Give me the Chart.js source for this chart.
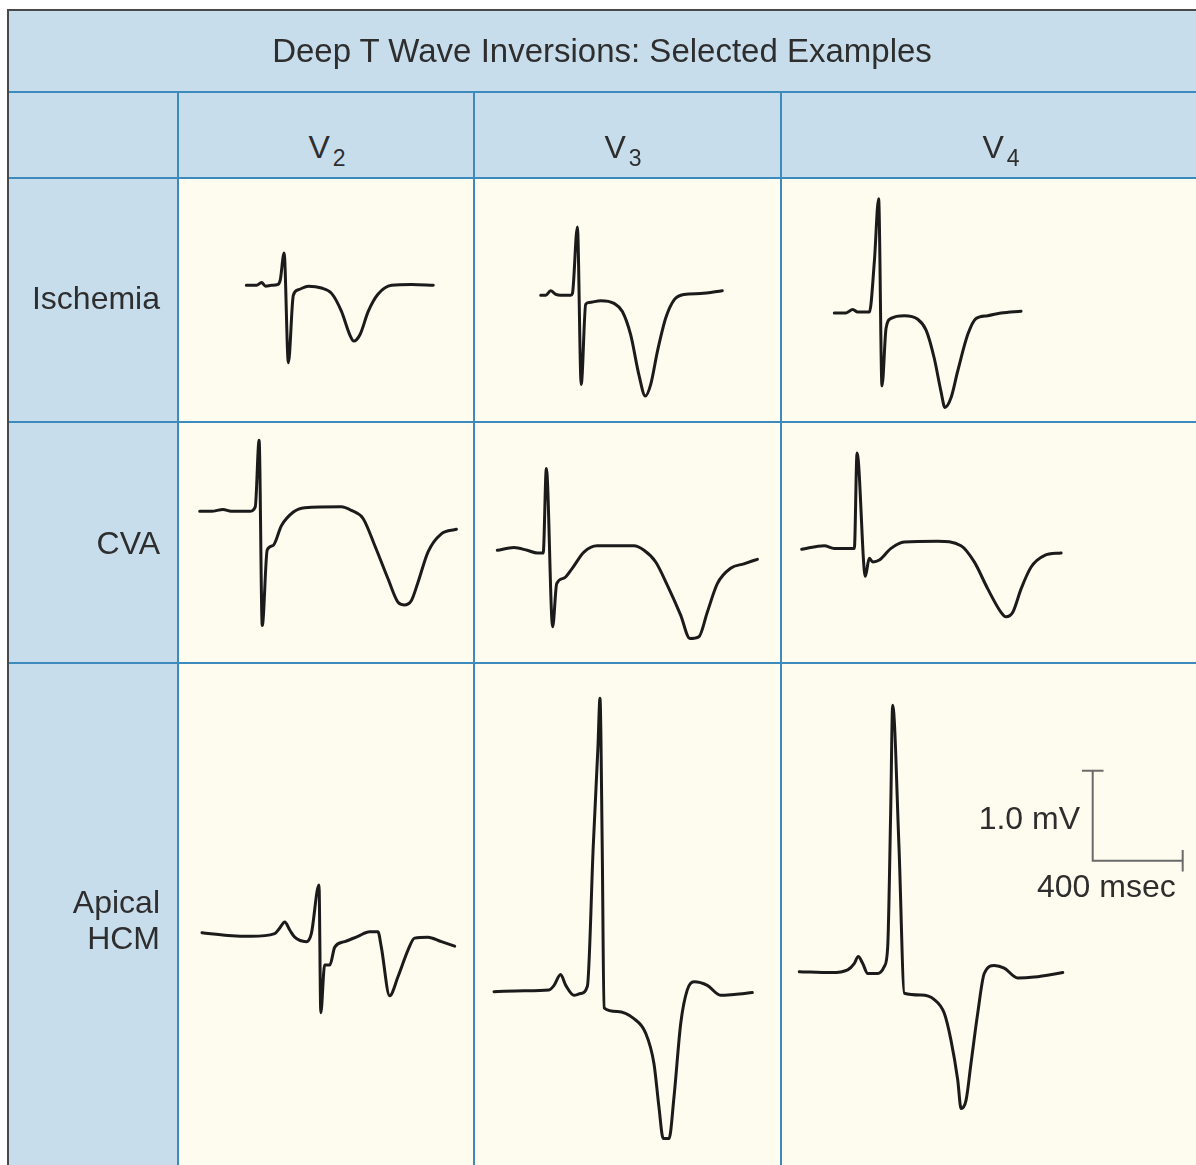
<!DOCTYPE html>
<html><head><meta charset="utf-8">
<script src="https://cdn.jsdelivr.net/npm/chart.js@4.4.1/dist/chart.umd.min.js"></script>
<style>
html,body{margin:0;padding:0;background:#fff;width:1196px;height:1165px;overflow:hidden;}
#page{position:absolute;left:0;top:0;width:1196px;height:1165px;font-family:"Liberation Sans",Arial,Helvetica,sans-serif;color:#2e2e2e;}
.box{position:absolute;}
.txt{position:absolute;font-size:32px;line-height:32px;white-space:nowrap;}
canvas{position:absolute;display:block;}
</style></head><body><div id="page"></div>
<script>
// ---------- text ----------
const titleText = 'Deep T Wave Inversions: Selected Examples';
const leadNames = ['V', 'V', 'V'];
const leadSubs = ['2', '3', '4'];
const rowLabels = [['Ischemia'], ['CVA'], ['Apical', 'HCM']];
const calibLabels = ['1.0 mV', '400 msec'];

// ---------- data: time (ms) and voltage (mV) ----------
const ischemiaV2_ms = [0,46,68,86,112,141,151,168,187,209,231,276,334,379,423,460,478,505,542,585,646,735,831];
const ischemiaV2_mV = [0,0,0.03,-0.01,0,0.01,0.06,0.36,-0.86,-0.11,-0.05,-0.01,-0.03,-0.09,-0.29,-0.55,-0.62,-0.55,-0.29,-0.1,0,0.01,0];

const ischemiaV3_ms = [0,22,44,67,89,133,141,163,180,200,215,267,326,363,400,437,465,489,519,556,593,637,711,807];
const ischemiaV3_mV = [0,0,0.05,0.01,0,0,0.02,0.76,-0.99,-0.1,-0.08,-0.06,-0.09,-0.18,-0.44,-0.89,-1.12,-0.99,-0.62,-0.25,-0.05,0.01,0.02,0.05];

const ischemiaV4_ms = [0,52,82,104,156,178,197,212,230,252,311,371,408,444,474,492,519,548,593,630,682,741,830];
const ischemiaV4_mV = [0,0,0.04,0.01,0.01,0.57,1.27,-0.81,-0.17,-0.06,-0.03,-0.07,-0.19,-0.5,-0.87,-1.05,-0.94,-0.65,-0.24,-0.06,-0.03,0,0.02];

const cvaV2_ms = [0,52,104,140,222,247,264,278,300,326,363,415,467,629,674,726,778,837,881,908,941,970,1015,1074,1141];
const cvaV2_mV = [0,0,0.02,0,0,0.05,0.79,-1.27,-0.43,-0.38,-0.16,-0.01,0.04,0.05,0.01,-0.08,-0.38,-0.75,-1.01,-1.04,-0.99,-0.79,-0.45,-0.25,-0.2];

const cvaV3_ms = [0,74,133,178,204,218,246,264,296,333,385,444,607,652,704,756,815,856,896,933,978,1037,1096,1156];
const cvaV3_mV = [0,0.03,0,-0.03,-0.03,0.91,-0.85,-0.37,-0.31,-0.2,-0.02,0.05,0.05,0,-0.13,-0.39,-0.72,-0.98,-0.96,-0.69,-0.37,-0.2,-0.15,-0.1];

const cvaV4_ms = [0,100,145,234,246,283,300,316,345,397,456,604,708,767,827,886,908,938,975,1019,1078,1153];
const cvaV4_mV = [0,0.04,0.01,0.01,1.07,-0.3,-0.1,-0.14,-0.12,0.01,0.08,0.09,0.04,-0.14,-0.44,-0.7,-0.75,-0.7,-0.44,-0.2,-0.07,-0.04];

const hcmV2_ms = [0,116,219,323,345,368,390,412,464,486,520,528,545,568,590,634,693,745,782,797,834,871,916,945,1004,1064,1123];
const hcmV2_mV = [0,-0.03,-0.04,-0.01,0.05,0.12,0.03,-0.05,-0.1,-0.01,0.53,-0.89,-0.36,-0.36,-0.16,-0.1,-0.04,0.01,0.01,-0.16,-0.7,-0.49,-0.19,-0.06,-0.05,-0.1,-0.15];

const hcmV3_ms = [0,133,244,267,296,319,356,385,415,441,462,471,481,489,548,622,674,711,733,752,778,800,830,859,889,948,1007,1067,1148];
const hcmV3_mV = [0,0.01,0.02,0.07,0.19,0.07,-0.04,-0.02,0.06,1.61,2.72,3.26,1.61,-0.18,-0.22,-0.3,-0.46,-0.8,-1.28,-1.63,-1.63,-1.17,-0.35,0.02,0.11,0.07,-0.04,-0.03,-0.01];

const hcmV4_ms = [0,142,215,244,262,282,304,348,378,393,406,415,443,467,541,600,644,674,704,719,741,763,793,822,867,911,971,1044,1171];
const hcmV4_mV = [0,-0.01,0.02,0.09,0.17,0.09,-0.02,-0.02,0.06,0.28,1.76,2.96,1.39,-0.24,-0.26,-0.31,-0.46,-0.76,-1.2,-1.52,-1.43,-1.02,-0.46,-0.02,0.07,0.04,-0.07,-0.06,-0.01];

// calibration bar values
const calibration_mV = 1.0;
const calibration_ms = 400;

// ---------- layout (positions / styles) ----------
const PX_PER_MV = 90;
const PX_PER_MS = 90 / 400;
const colEdges = [8, 178, 474, 781, 1196];
const rowEdges = [10, 92, 178, 422, 663, 1165];
const BLUE_BG = '#c7ddec';
const CREAM = '#fefcee';
const GRID = '#3d8bbd';
const FRAME = '#4a4a4a';
const TRACE = '#1b1b1b';

// page position of each trace's (0 ms, 0 mV) point
const traces = [
  {row:0, col:0, ms:ischemiaV2_ms, mV:ischemiaV2_mV, origin:[246.3, 285.3]},
  {row:0, col:1, ms:ischemiaV3_ms, mV:ischemiaV3_mV, origin:[540.7, 295.3]},
  {row:0, col:2, ms:ischemiaV4_ms, mV:ischemiaV4_mV, origin:[834.3, 313]},
  {row:1, col:0, ms:cvaV2_ms, mV:cvaV2_mV, origin:[199.7, 511.3]},
  {row:1, col:1, ms:cvaV3_ms, mV:cvaV3_mV, origin:[497.3, 550.3]},
  {row:1, col:2, ms:cvaV4_ms, mV:cvaV4_mV, origin:[801.7, 549.3]},
  {row:2, col:0, ms:hcmV2_ms, mV:hcmV2_mV, origin:[202, 932.7]},
  {row:2, col:1, ms:hcmV3_ms, mV:hcmV3_mV, origin:[494, 991.7]},
  {row:2, col:2, ms:hcmV4_ms, mV:hcmV4_mV, origin:[799.3, 971.7], calib:{ms:1304, mV:1.233}}
];

const page = document.getElementById('page');
function box(l, t, w, h, bg, z) {
  const d = document.createElement('div');
  d.className = 'box';
  Object.assign(d.style, {left:l+'px', top:t+'px', width:w+'px', height:h+'px', background:bg, zIndex:z||0});
  page.appendChild(d);
  return d;
}
function text(html, l, t, w, align, size) {
  const d = document.createElement('div');
  d.className = 'txt';
  d.innerHTML = html;
  Object.assign(d.style, {left:l+'px', top:t+'px', width:w+'px', textAlign:align, zIndex:5});
  if (size) { d.style.fontSize = size + 'px'; d.style.lineHeight = size + 'px'; }
  page.appendChild(d);
  return d;
}

// backgrounds
box(8, 10, 1188, 82, BLUE_BG);
box(8, 92, 1188, 86, BLUE_BG);
box(8, 178, 170, 987, BLUE_BG);
box(178, 178, 1018, 987, CREAM);

// charts
traces.forEach(tr => {
  const L = colEdges[tr.col + 1], R = colEdges[tr.col + 2];
  const T = rowEdges[tr.row + 2], B = rowEdges[tr.row + 3];
  const W = R - L, H = B - T;
  const [ox, oy] = tr.origin;
  const cv = document.createElement('canvas');
  cv.width = W; cv.height = H;
  Object.assign(cv.style, {left:L+'px', top:T+'px', width:W+'px', height:H+'px', zIndex:2});
  page.appendChild(cv);
  const datasets = [{
    data: tr.ms.map((t, i) => ({x:t, y:tr.mV[i]})),
    borderColor: TRACE, borderWidth: 3, pointRadius: 0,
    cubicInterpolationMode: 'monotone', fill: false,
    borderCapStyle: 'round', borderJoinStyle: 'round'
  }];
  if (tr.calib) {
    const c = tr.calib;
    const tickMs = 48, tickMv = 0.12;
    const calStyle = {borderColor:'#6a6a6a', borderWidth:2, pointRadius:0, tension:0, fill:false};
    datasets.push(Object.assign({data:[{x:c.ms, y:c.mV + calibration_mV}, {x:c.ms, y:c.mV}, {x:c.ms + calibration_ms, y:c.mV}]}, calStyle));
    datasets.push(Object.assign({data:[{x:c.ms - tickMs, y:c.mV + calibration_mV}, {x:c.ms + tickMs, y:c.mV + calibration_mV}]}, calStyle));
    datasets.push(Object.assign({data:[{x:c.ms + calibration_ms, y:c.mV - tickMv}, {x:c.ms + calibration_ms, y:c.mV + tickMv}]}, calStyle));
  }
  new Chart(cv, {
    type: 'line',
    data: {datasets},
    options: {
      responsive: false, animation: false, devicePixelRatio: 1, events: [],
      layout: {padding: 0},
      plugins: {legend: {display: false}, tooltip: {enabled: false}},
      scales: {
        x: {type: 'linear', display: false, min: (L - ox) / PX_PER_MS, max: (R - ox) / PX_PER_MS},
        y: {type: 'linear', display: false, min: (oy - B) / PX_PER_MV, max: (oy - T) / PX_PER_MV}
      }
    }
  });
});

// grid lines
box(8, 91, 1188, 2, GRID, 4);
box(8, 177, 1188, 2, GRID, 4);
box(8, 421, 1188, 2, GRID, 4);
box(8, 662, 1188, 2, GRID, 4);
box(177, 92, 2, 1073, GRID, 4);
box(473, 92, 2, 1073, GRID, 4);
box(780, 92, 2, 1073, GRID, 4);
// frame
box(7, 9, 2, 1156, FRAME, 4);
box(7, 9, 1189, 2, FRAME, 4);

// texts
text(titleText, 8, 34, 1188, 'center', 33);
const headerCenters = [327, 623, 1001];
leadNames.forEach((n, i) => {
  text(n + '<span style="font-size:23px;position:relative;top:8px;margin-left:3px;">' + leadSubs[i] + '</span>', headerCenters[i] - 100, 131, 200, 'center');
});
const labelBaselines = [[309], [554], [913, 949]];
rowLabels.forEach((lines, r) => {
  lines.forEach((s, k) => text(s, 8, labelBaselines[r][k] - 27, 152, 'right'));
});
text(calibLabels[0], 878, 802, 202, 'right');
text(calibLabels[1], 1037, 870, 159, 'left');
</script></body></html>
